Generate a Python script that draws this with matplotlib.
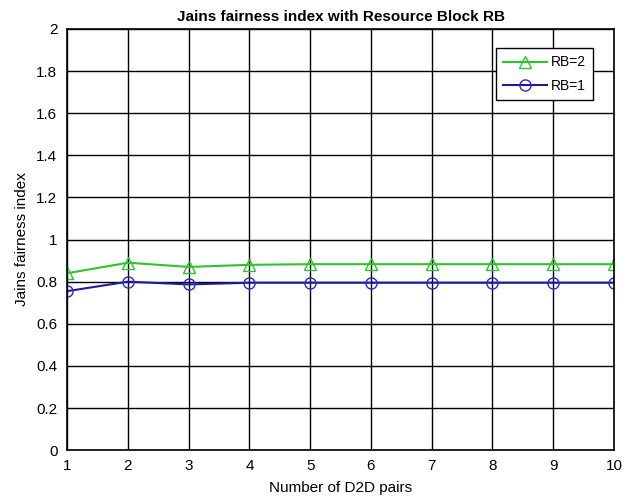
import matplotlib
matplotlib.use("Agg")
import matplotlib.pyplot as plt

plt.rcParams['font.family'] = ['Liberation Sans', 'DejaVu Sans']

pairs = [1, 2, 3, 4, 5, 6, 7, 8, 9, 10]
rb2 = [0.84, 0.89, 0.87, 0.88, 0.883, 0.883, 0.883, 0.883, 0.883, 0.883]
rb1 = [0.755, 0.80, 0.787, 0.795, 0.795, 0.795, 0.795, 0.795, 0.795, 0.795]
yticks = [0, 0.2, 0.4, 0.6, 0.8, 1, 1.2, 1.4, 1.6, 1.8, 2]
ytick_labels = ['0', '0.2', '0.4', '0.6', '0.8', '1', '1.2', '1.4', '1.6', '1.8', '2']

fig = plt.figure(figsize=(6.22, 4.98), dpi=100)
ax = fig.add_axes([0.108, 0.096, 0.879, 0.846])

ax.plot(pairs, rb2, color='#2ec42e', marker='^', markersize=8, markerfacecolor='none',
        markeredgecolor='#2ec42e', linewidth=1.5, label='RB=2')
ax.plot(pairs, rb1, color='#1c1c9c', marker='o', markersize=8, markerfacecolor='none',
        markeredgecolor='#2a2ad0', linewidth=1.5, label='RB=1')

ax.set_xlim(1, 10)
ax.set_ylim(0, 2)
ax.set_xticks(pairs)
ax.set_yticks(yticks)
ax.set_yticklabels(ytick_labels)
ax.grid(True, color='black', linewidth=1.0)
ax.tick_params(axis='both', direction='in', length=0, labelsize=11)
ax.tick_params(axis='x', pad=6)
ax.tick_params(axis='y', pad=7)
for s in ax.spines.values():
    s.set_linewidth(1.2)

ax.set_title('Jains fairness index with Resource Block RB', fontsize=11, fontweight='bold', pad=6)
ax.set_xlabel('Number of D2D pairs', fontsize=11, labelpad=6)
ax.set_ylabel('Jains fairness index', fontsize=11, labelpad=5)

leg = ax.legend(loc='upper right', bbox_to_anchor=(0.975, 0.97), fancybox=False, framealpha=1,
                edgecolor='black', fontsize=10, handlelength=3.2, borderpad=0.5,
                labelspacing=0.7, handletextpad=0.3)
leg.get_frame().set_linewidth(1.0)

fig.savefig('out.png', dpi=100)
